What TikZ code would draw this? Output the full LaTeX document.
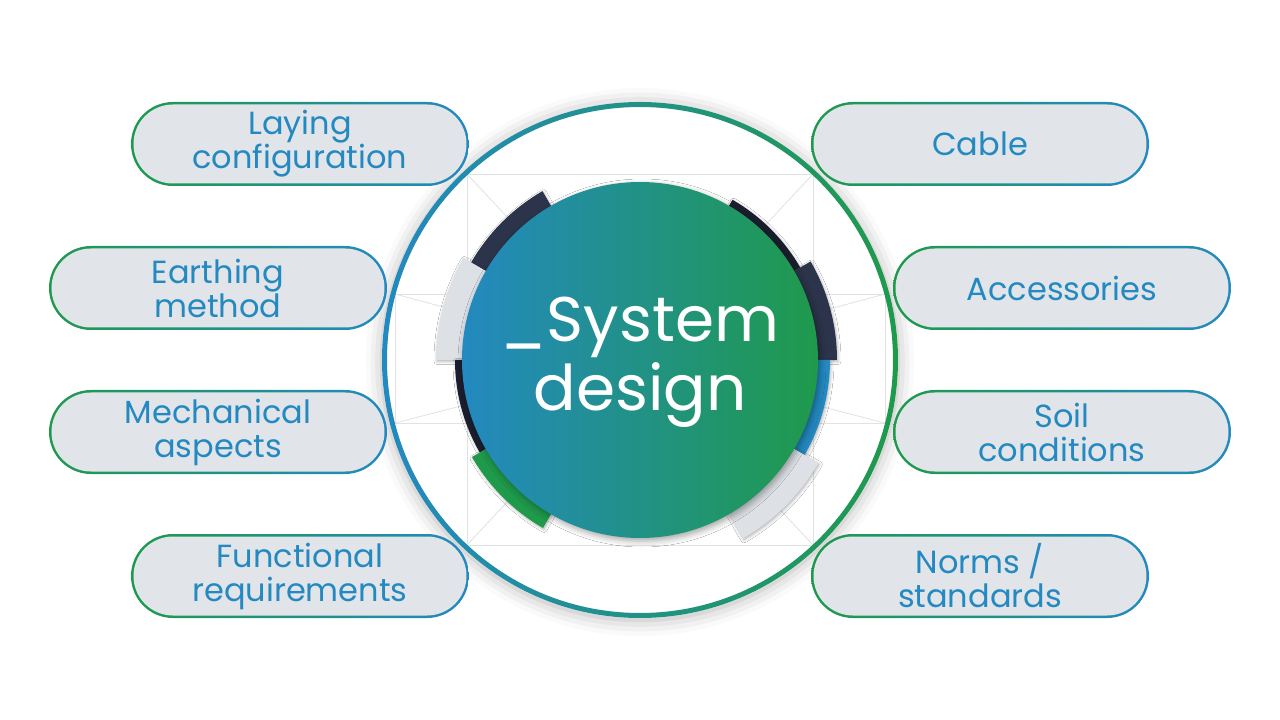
\documentclass[tikz,border=0pt]{standalone}
\usepackage{fontspec}
\setmainfont{Poppins}
\usetikzlibrary{shadows.blur}

\definecolor{brandblue}{RGB}{35,137,192}
\definecolor{brandgreen}{RGB}{31,154,75}
\definecolor{pillfill}{RGB}{225,229,234}
\definecolor{navyseg}{RGB}{43,52,74}
\definecolor{darkseg}{RGB}{27,30,46}
\definecolor{lightseg}{RGB}{221,225,230}
\definecolor{gridline}{RGB}{226,226,226}

% ring segment: colour, start angle, end angle, outer radius
\newcommand{\ringseg}[4]{%
  \fill[#1, segshadow] (#2:170pt) arc[start angle=#2, end angle=#3, radius=170pt]
    -- (#3:#4) arc[start angle=#3, end angle=#2, radius=#4] -- cycle;}

\begin{document}
\begin{tikzpicture}[
    x=1pt, y=1pt,
    topic/.style={rectangle, rounded corners=42pt, minimum width=338pt, minimum height=84pt, inner sep=0pt,
        left color=brandgreen, right color=brandblue, text=brandblue, align=center,
        font=\fontsize{32}{34}\selectfont,
        path picture={\fill[pillfill, rounded corners=39.5pt]
            ([shift={(2.5pt,-2.5pt)}]path picture bounding box.north west) rectangle
            ([shift={(-2.5pt,2.5pt)}]path picture bounding box.south east);}},
    guide/.style={draw=gridline, line width=0.8pt},
    segshadow/.style={blur shadow={shadow xshift=1pt, shadow yshift=-1.5pt, shadow blur radius=3pt, shadow opacity=30}}
]
    \useasboundingbox (-640,-360) rectangle (640,360);

    % white disc with soft shadow
    \fill[white, blur shadow={shadow xshift=0pt, shadow yshift=-2pt, shadow blur radius=16pt, shadow opacity=30}]
        (0,0) circle (258pt);

    % faint construction grid
    \draw[guide] (-173,186) rectangle (173,-185);
    \draw[guide] (-245,66) rectangle (245,-63);
    \foreach \gx/\gy in {-173/186, 173/186, -173/-185, 173/-185, -245/66, 245/66, -245/-63, 245/-63}
        \draw[guide] (\gx,\gy) -- (0,0);

    % topics
    \node[topic] (laying) at (-340,216) {Laying\\configuration};
    \node[topic] (earthing) at (-422,72) {Earthing\\method};
    \node[topic] (mechanical) at (-422,-72) {Mechanical\\aspects};
    \node[topic] (functional) at (-340,-216) {Functional\\requirements};
    \node[topic] (cable) at (340,216) {Cable};
    \node[topic] (accessories) at (422,72) {Accessories};
    \node[topic] (soil) at (422,-72) {Soil\\conditions};
    \node[topic] (norms) at (340,-216) {Norms /\\standards};

    % outer ring
    \shade[left color=brandblue, right color=brandgreen, even odd rule]
        (0,0) circle (258pt) (0,0) circle (253pt);

    % segments round the core
    \ringseg{navyseg}{120}{150}{195pt}
    \ringseg{lightseg}{150}{180}{204pt}
    \ringseg{darkseg}{180}{210}{185pt}
    \ringseg{brandgreen}{210}{240}{194pt}
    \ringseg{darkseg}{30}{60}{185pt}
    \ringseg{navyseg}{0}{30}{197pt}
    \ringseg{brandblue}{-30}{0}{190pt}
    \ringseg{lightseg}{-60}{-30}{206pt}

    % core
    \shade[left color=brandblue, right color=brandgreen,
        blur shadow={shadow xshift=2pt, shadow yshift=-3pt, shadow blur radius=6pt, shadow opacity=35}]
        (0,0) circle (178pt);
    \node[text=white, align=center, font=\fontsize{63}{69}\selectfont] (core) at (0,-2) {\_System\\design};
\end{tikzpicture}
\end{document}
